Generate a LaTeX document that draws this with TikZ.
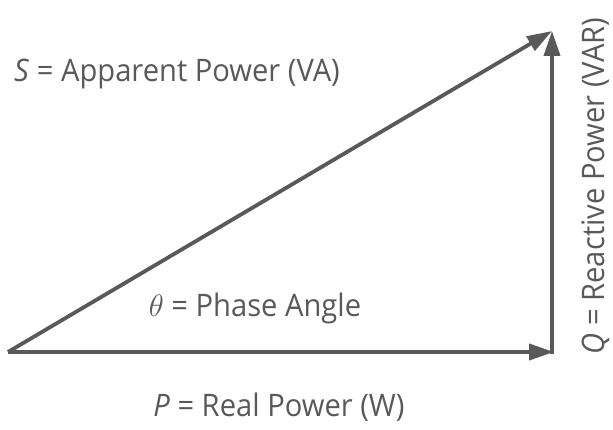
\RequirePackage{fix-cm}
\documentclass[tikz,border=0pt]{standalone}
\usepackage{fontspec}
\setmainfont[FakeStretch=0.94]{Open Sans}
\usetikzlibrary{arrows.meta}
\definecolor{ink}{HTML}{595959}
\begin{document}
\begin{tikzpicture}[x=1pt,y=1pt,
  vec/.style={draw=ink,line width=3.8pt,-{Triangle[length=25pt,width=16pt]}},
  lbl/.style={text=ink,font=\fontsize{31}{34}\selectfont,inner sep=0pt}]
\useasboundingbox (0,0) rectangle (613,429);
\coordinate (O) at (8,77);
\coordinate (A) at (554,77);
\coordinate (B) at (552,398);
\coordinate (A0) at (552,75.1);
\draw[vec] (O) -- (A);
\draw[vec] (A0) -- (B);
\draw[vec] (O) -- (B);
\node[lbl] (s) at (177,355) {\textit{S} = Apparent Power (VA)};
\node[lbl] (t) at (255,121) {$\theta$ = Phase Angle};
\node[lbl] (p) at (279,22) {\textit{P} = Real Power (W)};
\node[lbl,rotate=90] (q) at (596,243) {\textit{Q} = Reactive Power (VAR)};
\end{tikzpicture}
\end{document}
